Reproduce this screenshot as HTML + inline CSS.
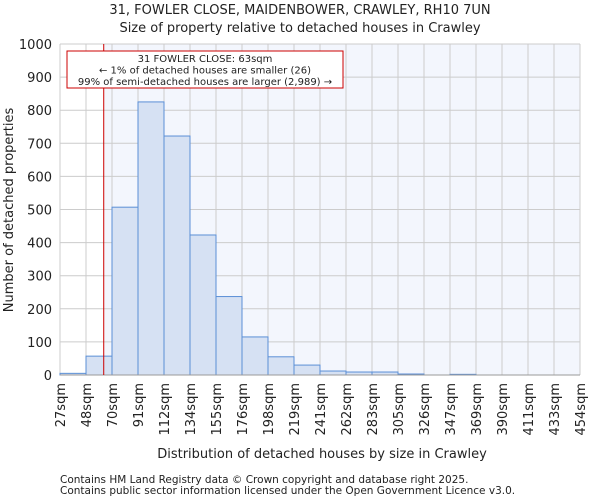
<!DOCTYPE html>
<html><head><meta charset="utf-8"><style>
body{margin:0;background:#fff;font-family:"DejaVu Sans","Liberation Sans",sans-serif;}
svg text{font-family:"DejaVu Sans","Liberation Sans",sans-serif;fill:#222;}
</style></head><body>
<svg id="chart" width="600" height="500" xmlns="http://www.w3.org/2000/svg">
<text x="300" y="14" font-size="13" text-anchor="middle">31, FOWLER CLOSE, MAIDENBOWER, CRAWLEY, RH10 7UN</text>
<text x="300" y="32" font-size="13" text-anchor="middle">Size of property relative to detached houses in Crawley</text>
<g id="plot"></g>
<text x="322" y="458" font-size="13" text-anchor="middle">Distribution of detached houses by size in Crawley</text>
<text transform="translate(13,210) rotate(-90)" font-size="13" text-anchor="middle">Number of detached properties</text>
<text x="60" y="483" font-size="10.5">Contains HM Land Registry data © Crown copyright and database right 2025.</text>
<text x="60" y="494" font-size="10.5">Contains public sector information licensed under the Open Government Licence v3.0.</text>
</svg>
<script>
const binEdges=[27,48,70,91,112,134,155,176,198,219,241,262,283,305,326,347,369,390,411,433,454];
const counts=[5,57,507,825,722,423,237,115,55,30,12,9,9,3,0,2,0,0,0,0];
const yTicks=[0,100,200,300,400,500,600,700,800,900,1000];
const markerValue=63;
const NS="http://www.w3.org/2000/svg";
const L=60,R=580,T=44,B=375,yMax=1000;
const nb=binEdges.length-1;
function xIdx(i){return L+(R-L)*i/nb;}
function xVal(v){for(let i=0;i<nb;i++){if(v<=binEdges[i+1]){return xIdx(i+(v-binEdges[i])/(binEdges[i+1]-binEdges[i]));}}return R;}
function y(v){return B-(B-T)*v/yMax;}
const g=document.getElementById('plot');
function mk(t,a){const e=document.createElementNS(NS,t);for(const k in a)e.setAttribute(k,a[k]);g.appendChild(e);return e;}
const mx=xVal(markerValue);
let bg=mk('rect',{x:mx,y:T,width:R-mx,height:B-T,fill:'#f3f6fd'});


yTicks.forEach(t=>{
 const l=mk('line',{x1:L,x2:R,y1:y(t),y2:y(t),stroke:'#cccccc','stroke-width':1});
 
 
 const tx=mk('text',{x:L-8,y:y(t)+5,'font-size':13,'text-anchor':'end'});tx.textContent=t;
 
 
});
binEdges.forEach((e,i)=>{
 const l=mk('line',{x1:xIdx(i),x2:xIdx(i),y1:T,y2:B,stroke:'#cccccc','stroke-width':1});
 
 
 const tx=mk('text',{transform:`translate(${xIdx(i)+5},${B+8}) rotate(-90)`,'font-size':13,'text-anchor':'end'});tx.textContent=e+'sqm';
 
 
});
counts.forEach((c,i)=>{
 if(c<=0)return;
 const r=mk('rect',{x:xIdx(i),y:y(c),width:xIdx(i+1)-xIdx(i),height:B-y(c),fill:'#d6e1f3',stroke:'#5b8fd6','stroke-width':1});
 
 
});
const ax=mk('line',{x1:L,x2:R,y1:B,y2:B,stroke:'#999','stroke-width':1});


const ml=mk('line',{x1:mx,x2:mx,y1:T,y2:B,stroke:'#cc0000','stroke-width':1});


const box=mk('rect',{x:67,y:51,width:276,height:37,fill:'#fff',stroke:'#cc0000','stroke-width':1});


["31 FOWLER CLOSE: 63sqm","← 1% of detached houses are smaller (26)","99% of semi-detached houses are larger (2,989) →"].forEach((s,i)=>{
 const t=mk('text',{x:205,y:62+i*11.5,'font-size':10,'text-anchor':'middle'});t.textContent=s;
 
 
});
</script>
</body></html>
